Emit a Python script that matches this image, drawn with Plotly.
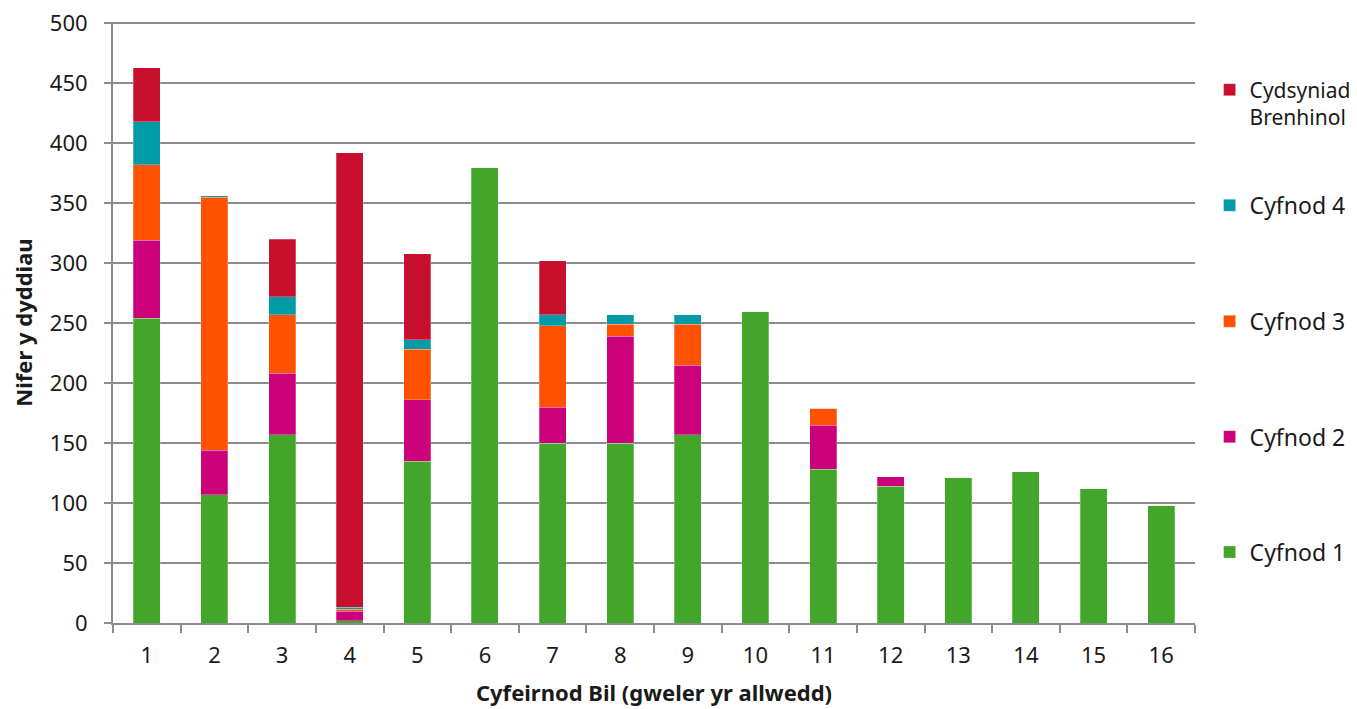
import plotly.graph_objects as go

# Bil reference numbers on the x axis
bills = [str(i) for i in range(1, 17)]

# days spent in each stage
cyfnod_1 = [254, 107, 157, 2, 135, 380, 150, 150, 157, 260, 128, 114, 121, 126, 112, 98]
cyfnod_2 = [65, 37, 51, 8, 51, 0, 30, 89, 58, 0, 37, 8, 0, 0, 0, 0]
cyfnod_3 = [63, 211, 49, 1.5, 42, 0, 68, 10, 34, 0, 14, 0, 0, 0, 0, 0]
cyfnod_4 = [36, 1, 15, 1.5, 8, 0, 9, 8, 8, 0, 0, 0, 0, 0, 0, 0]
cydsyniad = [45, 0, 48, 379, 72, 0, 45, 0, 0, 0, 0, 0, 0, 0, 0, 0]

series = [
    ('Cyfnod 1', cyfnod_1, '#41A62A'),
    ('Cyfnod 2', cyfnod_2, '#CC007A'),
    ('Cyfnod 3', cyfnod_3, '#FF5100'),
    ('Cyfnod 4', cyfnod_4, '#009BA6'),
    ('Cydsyniad<br>Brenhinol', cydsyniad, '#C8102E'),
]

# each series gets its own legend box so the spacing matches the original
legend_y = [0.118, 0.310, 0.502, 0.695, 0.921]
legend_size = [23, 23, 23, 23, 21]

grid = '#8c8c8c'
font = 'Noto Sans, Lato, sans-serif'

fig = go.Figure()
legends = {}
for i, (name, vals, colour) in enumerate(series):
    key = 'legend' if i == 0 else f'legend{i + 1}'
    fig.add_trace(go.Bar(
        x=bills, y=vals, name=name,
        legend=key, showlegend=True,
        marker=dict(color=colour, line=dict(color='rgba(255,255,255,0.5)', width=0.5)),
    ))
    legends[key] = dict(
        x=1.0135, xanchor='left', y=legend_y[i], yanchor='middle' if i < 4 else 'top',
        font=dict(size=legend_size[i], color='#1a1a1a'),
        valign='top', itemwidth=30,
        bgcolor='rgba(0,0,0,0)',
    )

# page body adds an 8px offset, margins are trimmed to allow for it
# range goes to 501 so the 500 grid line is drawn inside the plot area
fig.update_layout(
    barmode='stack',
    bargap=0.6,
    width=1357, height=709,
    margin=dict(l=105, r=170, t=14, b=94, autoexpand=False),
    plot_bgcolor='white', paper_bgcolor='white',
    font=dict(family=font, size=22, color='#1a1a1a'),
    **legends,
)

fig.update_xaxes(
    type='category', automargin=False,
    showline=True, linecolor=grid, linewidth=2,
    ticks='outside', tickson='boundaries', ticklen=8, tickcolor=grid, tickwidth=2,
    ticklabelstandoff=12, ticklabeloverflow='allow',
    tickfont=dict(size=22),
    title=dict(text='<b>Cyfeirnod Bil (gweler yr allwedd)</b>', font=dict(size=22), standoff=17),
)
fig.update_yaxes(
    range=[0, 501], tickvals=list(range(0, 501, 50)), automargin=False,
    showgrid=True, gridcolor=grid, gridwidth=2,
    showline=True, linecolor=grid, linewidth=2,
    ticks='outside', ticklen=7, tickcolor=grid, tickwidth=2,
    ticklabelstandoff=12, ticklabeloverflow='allow',
    tickfont=dict(size=22),
    zeroline=False,
    title=dict(text='<b>Nifer y dyddiau</b>', font=dict(size=22), standoff=12),
)

fig.write_html("out.html")
